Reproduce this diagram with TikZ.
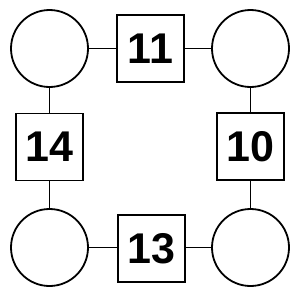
\documentclass[tikz,border=0pt]{standalone}
\usepackage{fontspec}
\setmainfont{Liberation Sans}
\begin{document}
\begin{tikzpicture}[x=1pt,y=-1pt,
  circ/.style={draw,line width=1.8pt,circle,minimum size=77pt,inner sep=0pt},
  sq/.style={draw,line width=1.8pt,rectangle,minimum width=67pt,minimum height=67pt,inner sep=0pt,font=\fontsize{43}{43}\selectfont\bfseries},
  conn/.style={line width=1.8pt}]
\useasboundingbox (0,0) rectangle (300,300);
\node[circ] (tl) at (49.5,48.5) {};
\node[circ] (tr) at (250.5,48.5) {};
\node[circ] (bl) at (49.5,247.5) {};
\node[circ] (br) at (250.5,247.5) {};
\node[sq] (t) at (150.5,48.5) {11};
\node[sq] (l) at (49.5,147) {14};
\node[sq] (r) at (250.5,146.5) {10};
\node[sq] (b) at (151.5,248.5) {13};
\draw[conn] (tl) -- (t);
\draw[conn] (t) -- (tr);
\draw[conn] (tl) -- (l);
\draw[conn] (l) -- (bl);
\draw[conn] (tr) -- (r);
\draw[conn] (r) -- (br);
\draw[conn] (bl.east) -- (b.west |- bl.east);
\draw[conn] (b.east |- br.west) -- (br.west);
\end{tikzpicture}
\end{document}
